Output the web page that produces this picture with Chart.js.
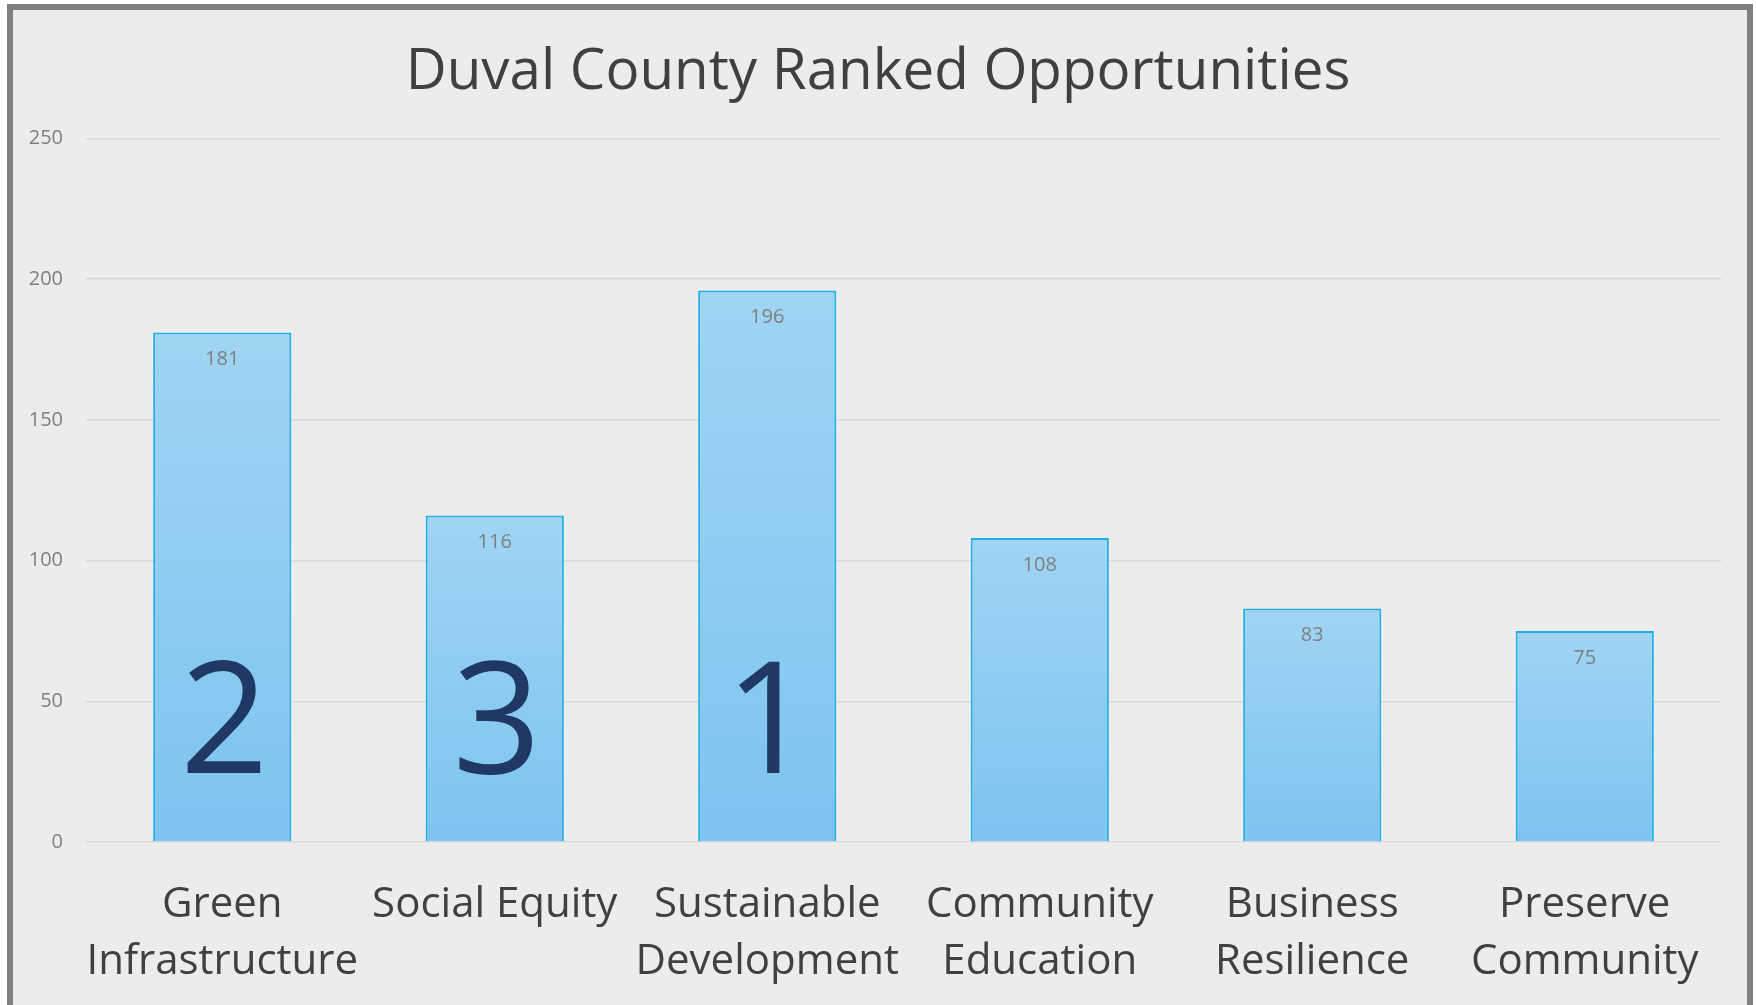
<!DOCTYPE html>
<html>
<head>
<meta charset="utf-8">
<script src="https://cdn.jsdelivr.net/npm/chart.js@4.4.1/dist/chart.umd.min.js"></script>
<style>
  body { margin: 0; background: #ffffff; overflow: hidden; }
  #frame {
    position: absolute; left: 7px; top: 4px;
    width: 1734px; height: 1010px;
    border: 6px solid #7f7f7f; border-bottom: none;
    background: #ececec;
  }
  #wrap { position: absolute; left: 0; top: 0; width: 1756px; height: 1005px; }
</style>
</head>
<body>
<div id="frame"></div>
<div id="wrap"><canvas id="chart" width="1756" height="1005"></canvas></div>
<script>
const categories = [
  ["Green", "Infrastructure"],
  ["Social Equity"],
  ["Sustainable", "Development"],
  ["Community", "Education"],
  ["Business", "Resilience"],
  ["Preserve", "Community"]
];
const votes = [181, 116, 196, 108, 83, 75];
const ranks = [2, 3, 1, null, null, null];
const yTicks = [0, 50, 100, 150, 200, 250];

const FONT = "'Open Sans', 'Noto Sans', sans-serif";

// each bar gets its own light-to-darker blue gradient
function barFill(ctx) {
  const chart = ctx.chart;
  const y = chart.scales.y;
  if (!y || !chart.chartArea || ctx.raw == null) return '#8ecbf1';
  const top = y.getPixelForValue(ctx.raw);
  const base = y.getPixelForValue(0);
  if (!isFinite(top) || !isFinite(base)) return '#8ecbf1';
  const g = chart.ctx.createLinearGradient(0, top, 0, base);
  g.addColorStop(0, '#a0d4f3');
  g.addColorStop(1, '#7cc4ef');
  return g;
}

// value labels near the top of each bar, plus the big rank numbers
const labelsPlugin = {
  id: 'barLabels',
  afterDatasetsDraw(chart) {
    const c = chart.ctx;
    const meta = chart.getDatasetMeta(0);
    const y = chart.scales.y;
    c.save();
    c.textAlign = 'center';
    meta.data.forEach(function (bar, i) {
      c.fillStyle = '#7f7f7f';
      c.font = '20px ' + FONT;
      c.textBaseline = 'middle';
      c.fillText(String(votes[i]), bar.x, bar.y + 27);
      if (ranks[i] != null) {
        c.fillStyle = '#1f3864';
        c.font = '500 155px ' + FONT;
        c.textBaseline = 'alphabetic';
        c.fillText(String(ranks[i]), bar.x + 2, y.getPixelForValue(24.5));
      }
    });
    c.restore();
  }
};

new Chart(document.getElementById('chart'), {
  type: 'bar',
  data: {
    labels: categories,
    datasets: [{
      data: votes,
      backgroundColor: barFill,
      borderColor: '#1eaee8',
      borderWidth: 2,
      categoryPercentage: 1,
      barPercentage: 0.507
    }]
  },
  options: {
    responsive: false,
    animation: false,
    layout: { padding: 0 },
    plugins: {
      legend: { display: false },
      tooltip: { enabled: false },
      title: {
        display: true,
        text: 'Duval County Ranked Opportunities',
        color: '#404040',
        font: { family: FONT, size: 56.5, weight: 'normal', lineHeight: 1.2 },
        padding: { top: 39, bottom: 31.6 }
      }
    },
    scales: {
      x: {
        grid: { display: false },
        border: { display: false },
        ticks: {
          color: '#404040',
          font: { family: FONT, size: 42, lineHeight: 1.357 },
          padding: 27,
          maxRotation: 0,
          autoSkip: false
        },
        afterFit(scale) { scale.height = 163; }
      },
      y: {
        min: 0,
        max: 250,
        afterBuildTicks(scale) { scale.ticks = yTicks.map(v => ({ value: v })); },
        grid: { color: '#d9d9d9', lineWidth: 1.5, drawTicks: false },
        border: { display: false },
        ticks: {
          color: '#7f7f7f',
          font: { family: FONT, size: 20 },
          padding: 23
        },
        afterFit(scale) { scale.width = 86; }
      },
      // empty right-hand axis, only keeps the plot clear of the frame
      yRight: {
        position: 'right',
        min: 0,
        max: 250,
        grid: { display: false },
        border: { display: false },
        ticks: { display: false },
        afterFit(scale) { scale.width = 35; }
      }
    }
  },
  plugins: [labelsPlugin]
});
</script>
</body>
</html>
